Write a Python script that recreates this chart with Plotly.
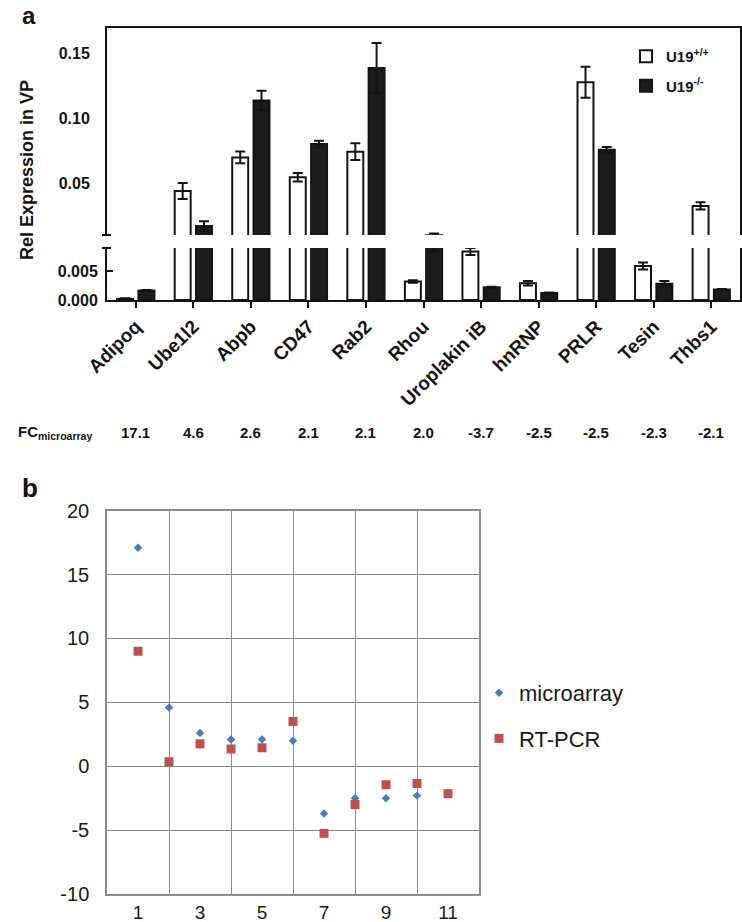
import plotly.graph_objects as go

# ---------------- data ----------------
genes = ["Adipoq", "Ube1l2", "Abpb", "CD47", "Rab2", "Rhou", "Uroplakin iB",
         "hnRNP", "PRLR", "Tesin", "Thbs1"]
wt_vals = [0.0002, 0.044, 0.070, 0.0546, 0.0744, 0.0032, 0.0084, 0.0029, 0.128, 0.0059, 0.0325]
wt_err = [0.0001, 0.0062, 0.0045, 0.0033, 0.0065, 0.0002, 0.0006, 0.0004, 0.012, 0.0006, 0.0028]
ko_vals = [0.00165, 0.017, 0.114, 0.0804, 0.139, 0.0098, 0.0022, 0.0012, 0.0758, 0.0028, 0.0018]
ko_err = [0.0001, 0.0037, 0.0075, 0.0025, 0.0195, 0.0014, 0.0001, 0.0001, 0.0022, 0.0005, 0.0001]

fc_microarray = [17.1, 4.6, 2.6, 2.1, 2.1, 2.0, -3.7, -2.5, -2.5, -2.3, -2.1]
gene_index = [1, 2, 3, 4, 5, 6, 7, 8, 9, 10, 11]
rtpcr = [9.0, 0.35, 1.75, 1.35, 1.45, 3.5, -5.25, -3.0, -1.45, -1.35, -2.15]

lower_ticks = [0.0, 0.005]
lower_ticktext = ["0.000", "0.005"]
upper_ticks = [0.05, 0.10, 0.15]
upper_ticktext = ["0.05", "0.10", "0.15"]
b_xticks = [1, 3, 5, 7, 9, 11]
b_xgrid = [2, 4, 6, 8, 10]
b_yticks = [-10, -5, 0, 5, 10, 15, 20]
b_yticktext = ["-10", "-5", "0", "5", "10", "15", "20"]

# ---------------- geometry helpers ----------------
W, H = 742, 922
def px(x):
    return x / W
def py(y):
    return 1 - y / H

FONT = "Liberation Sans, Arial, sans-serif"
INK = "#141414"

fig = go.Figure()

# panel a: same data drawn on the lower and upper (broken) axes
for xa, ya, show in [("x", "y", False), ("x2", "y2", True)]:
    fig.add_trace(go.Bar(
        x=genes, y=wt_vals, name="U19<sup>+/+</sup>",
        error_y=dict(type="data", array=wt_err, color=INK, thickness=2, width=5),
        marker=dict(color="white", line=dict(color=INK, width=2)),
        xaxis=xa, yaxis=ya, showlegend=show, legend="legend", legendgroup="wt"))
    fig.add_trace(go.Bar(
        x=genes, y=ko_vals, name="U19<sup>-/-</sup>",
        error_y=dict(type="data", array=ko_err, color=INK, thickness=2, width=5),
        marker=dict(color="#1c1c1c", line=dict(color=INK, width=2)),
        xaxis=xa, yaxis=ya, showlegend=show, legend="legend", legendgroup="ko"))

# panel b
fig.add_trace(go.Scatter(
    x=gene_index, y=fc_microarray, mode="markers", name="microarray",
    marker=dict(symbol="diamond", size=6.5, color="#4a7ebb"),
    xaxis="x3", yaxis="y3", legend="legend2", legendgroup="m"))
fig.add_trace(go.Scatter(
    x=gene_index, y=rtpcr, mode="markers", name="RT-PCR",
    marker=dict(symbol="square", size=9, color="#c0504d"),
    xaxis="x3", yaxis="y3", legend="legend2", legendgroup="r"))

axis_common = dict(showgrid=False, zeroline=False, linecolor=INK, linewidth=2,
                   automargin=False)
tickfont_a = dict(family=FONT, size=16, color=INK, weight="bold")

fig.update_layout(
    width=W, height=H,
    margin=dict(l=0, r=0, t=0, b=0),
    paper_bgcolor="white", plot_bgcolor="white",
    barmode="group", bargap=0.26, bargroupgap=0.25,
    font=dict(family=FONT, color=INK),
    xaxis=dict(domain=[px(107), px(740)], anchor="y", type="category",
               range=[-0.5, 10.5], showline=True, ticks="outside", ticklen=6,
               tickwidth=2, tickcolor=INK, tickangle=-45,
               tickfont=dict(family=FONT, size=19, color=INK, weight="bold"),
               **axis_common),
    yaxis=dict(domain=[py(300), py(248)], anchor="x", range=[0, 0.009],
               tickvals=lower_ticks, ticktext=lower_ticktext, showline=True,
               mirror=True, ticks="inside", ticklen=6, tickwidth=2, tickcolor=INK,
               tickfont=tickfont_a, ticklabelstandoff=4, **axis_common),
    xaxis2=dict(domain=[px(107), px(740)], anchor="y2", type="category",
                range=[-0.5, 10.5], matches="x", showline=True, side="top",
                showticklabels=False, ticks="", **axis_common),
    yaxis2=dict(domain=[py(235), py(28)], anchor="x2", range=[0.01, 0.17],
                tickvals=upper_ticks, ticktext=upper_ticktext, showline=True,
                mirror=True, ticks="", tickfont=tickfont_a, ticklabelstandoff=12,
                **axis_common),
    xaxis3=dict(domain=[px(107), px(479)], anchor="y3", range=[0, 12],
                tickvals=b_xticks, showgrid=False, zeroline=False, automargin=False,
                minor=dict(tickvals=b_xgrid, showgrid=True, gridcolor="#8c8c8c",
                           gridwidth=1.4, ticks=""),
                showline=True, mirror=True, linecolor="#8c8c8c", linewidth=1.5,
                ticks="", ticklabelstandoff=0,
                tickfont=dict(family=FONT, size=19, color="#1a1a1a")),
    yaxis3=dict(domain=[py(894), py(510.7)], anchor="x3", range=[-10, 20],
                tickvals=b_yticks, ticktext=b_yticktext, showgrid=True,
                gridcolor="#8c8c8c", gridwidth=1.4, automargin=False,
                zeroline=False, showline=True, mirror=True, linecolor="#8c8c8c",
                linewidth=1.5, ticks="", ticklabelstandoff=12,
                tickfont=dict(family=FONT, size=20, color="#1a1a1a")),
    legend=dict(x=px(626), y=py(40), xanchor="left", yanchor="top",
                bgcolor="rgba(0,0,0,0)", font=dict(family=FONT, size=15, color=INK,
                                                    weight="bold"),
                itemwidth=30, tracegroupgap=7, traceorder="grouped"),
    legend2=dict(x=px(479), y=py(672), xanchor="left", yanchor="top",
                 bgcolor="rgba(0,0,0,0)", font=dict(family=FONT, size=22, color="#1a1a1a"),
                 itemwidth=30, tracegroupgap=14, traceorder="grouped"),
)

FC_Y = 432
annotations = [
    dict(text="<b>a</b>", x=px(20), y=py(15), xref="paper", yref="paper",
         xanchor="left", yanchor="middle", showarrow=False,
         font=dict(family=FONT, size=24, color=INK)),
    dict(text="<b>b</b>", x=px(20), y=py(488), xref="paper", yref="paper",
         xanchor="left", yanchor="middle", showarrow=False,
         font=dict(family=FONT, size=26, color=INK)),
    dict(text="<b>Rel Expression in VP</b>", x=px(27), y=py(170), xref="paper",
         yref="paper", xanchor="center", yanchor="middle", textangle=-90,
         showarrow=False, font=dict(family=FONT, size=18, color=INK)),
    dict(text="<b>FC<sub>microarray</sub></b>", x=px(16), y=py(FC_Y), xref="paper",
         yref="paper", xanchor="left", yanchor="middle", showarrow=False,
         font=dict(family=FONT, size=15, color=INK)),
]
for g, v in zip(genes, fc_microarray):
    annotations.append(dict(text=f"<b>{v:.1f}</b>", x=g, y=py(FC_Y), xref="x",
                            yref="paper", xanchor="center", yanchor="middle",
                            showarrow=False, font=dict(family=FONT, size=15, color=INK)))
fig.update_layout(annotations=annotations)

# break marks on the left axis
fig.update_layout(shapes=[
    dict(type="line", xref="paper", yref="paper", x0=px(102), x1=px(111),
         y0=py(235), y1=py(235), line=dict(color=INK, width=2)),
    dict(type="line", xref="paper", yref="paper", x0=px(102), x1=px(111),
         y0=py(248), y1=py(248), line=dict(color=INK, width=2)),
])

fig.write_html("out.html", config={"displayModeBar": False},
               post_script="document.body.style.margin='0px';")
